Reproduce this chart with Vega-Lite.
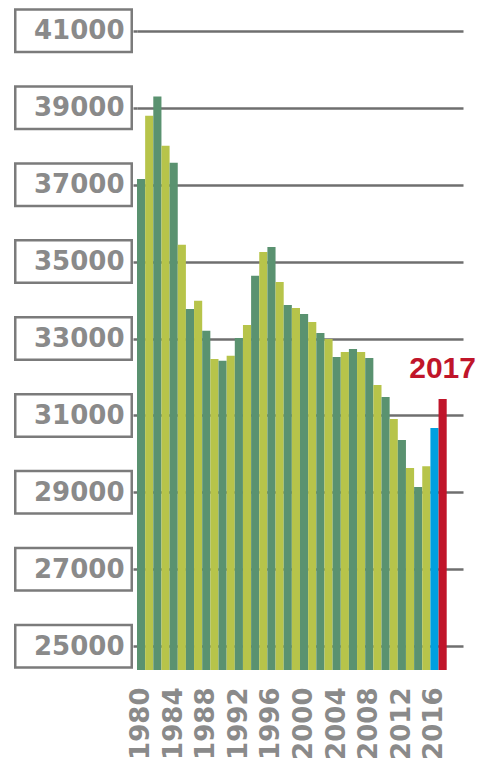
{
  "$schema": "https://vega.github.io/schema/vega-lite/v6.json",
  "width": 326,
  "height": 658,
  "autosize": {"type": "none"},
  "padding": {"left": 137, "top": 12, "right": 20, "bottom": 93},
  "background": "white",
  "config": {"view": {"stroke": null}},
  "datasets": {
    "bars": [
      {"year": 1980, "value": 37150, "kind": "even"},
      {"year": 1981, "value": 38790, "kind": "odd"},
      {"year": 1982, "value": 39290, "kind": "even"},
      {"year": 1983, "value": 38010, "kind": "odd"},
      {"year": 1984, "value": 37570, "kind": "even"},
      {"year": 1985, "value": 35440, "kind": "odd"},
      {"year": 1986, "value": 33770, "kind": "even"},
      {"year": 1987, "value": 33980, "kind": "odd"},
      {"year": 1988, "value": 33200, "kind": "even"},
      {"year": 1989, "value": 32470, "kind": "odd"},
      {"year": 1990, "value": 32420, "kind": "even"},
      {"year": 1991, "value": 32550, "kind": "odd"},
      {"year": 1992, "value": 33010, "kind": "even"},
      {"year": 1993, "value": 33350, "kind": "odd"},
      {"year": 1994, "value": 34630, "kind": "even"},
      {"year": 1995, "value": 35250, "kind": "odd"},
      {"year": 1996, "value": 35380, "kind": "even"},
      {"year": 1997, "value": 34470, "kind": "odd"},
      {"year": 1998, "value": 33870, "kind": "even"},
      {"year": 1999, "value": 33790, "kind": "odd"},
      {"year": 2000, "value": 33640, "kind": "even"},
      {"year": 2001, "value": 33430, "kind": "odd"},
      {"year": 2002, "value": 33140, "kind": "even"},
      {"year": 2003, "value": 32990, "kind": "odd"},
      {"year": 2004, "value": 32520, "kind": "even"},
      {"year": 2005, "value": 32650, "kind": "odd"},
      {"year": 2006, "value": 32730, "kind": "even"},
      {"year": 2007, "value": 32650, "kind": "odd"},
      {"year": 2008, "value": 32490, "kind": "even"},
      {"year": 2009, "value": 31790, "kind": "odd"},
      {"year": 2010, "value": 31480, "kind": "even"},
      {"year": 2011, "value": 30910, "kind": "odd"},
      {"year": 2012, "value": 30360, "kind": "even"},
      {"year": 2013, "value": 29630, "kind": "odd"},
      {"year": 2014, "value": 29140, "kind": "even"},
      {"year": 2015, "value": 29680, "kind": "odd"},
      {"year": 2016, "value": 30670, "kind": "prior"},
      {"year": 2017, "value": 31430, "kind": "current"}
    ],
    "ticks": [
      {"tick": 25000}, {"tick": 27000}, {"tick": 29000}, {"tick": 31000},
      {"tick": 33000}, {"tick": 35000}, {"tick": 37000}, {"tick": 39000}, {"tick": 41000}
    ]
  },
  "layer": [
    {
      "data": {"name": "bars"},
      "mark": {"type": "bar"},
      "encoding": {
        "x": {
          "field": "year",
          "type": "ordinal",
          "scale": {"paddingInner": 0, "paddingOuter": 1.125, "align": 0},
          "axis": {
            "title": null,
            "values": [1980, 1984, 1988, 1992, 1996, 2000, 2004, 2008, 2012, 2016],
            "labelAngle": 270,
            "labelFont": "DejaVu Sans",
            "labelFontWeight": "bold",
            "labelFontSize": 26,
            "labelColor": "#8a8a8a",
            "labelPadding": 17,
            "ticks": false,
            "domain": false
          }
        },
        "y": {
          "field": "value",
          "type": "quantitative",
          "scale": {"domain": [24380, 41490], "nice": false, "zero": false},
          "axis": {
            "title": null,
            "format": "d",
            "values": [25000, 27000, 29000, 31000, 33000, 35000, 37000, 39000, 41000],
            "domain": false,
            "grid": true,
            "gridColor": "#6f6f6f",
            "gridWidth": 2.5,
            "gridOpacity": 1,
            "ticks": true,
            "tickSize": 4,
            "tickWidth": 2.5,
            "tickColor": "#6f6f6f",
            "labelFont": "DejaVu Sans",
            "labelFontWeight": "bold",
            "labelFontSize": 26,
            "labelColor": "#8a8a8a",
            "labelPadding": 9
          }
        },
        "y2": {"datum": 24380},
        "color": {
          "field": "kind",
          "type": "nominal",
          "scale": {
            "domain": ["even", "odd", "prior", "current"],
            "range": ["#5a9270", "#b7c44a", "#00a0e0", "#c0152a"]
          },
          "legend": null
        }
      }
    },
    {
      "data": {"name": "ticks"},
      "mark": {
        "type": "point",
        "shape": "M-2.435,-0.425H-0.105V0.425H-2.435Z",
        "filled": false,
        "size": 10000,
        "strokeWidth": 2.5,
        "color": "#7b7b7b",
        "opacity": 1
      },
      "encoding": {
        "x": {"value": 0},
        "y": {"field": "tick", "type": "quantitative", "title": null}
      }
    },
    {
      "data": {"name": "bars"},
      "transform": [{"filter": "datum.year == 2017"}],
      "mark": {
        "type": "text",
        "font": "Liberation Sans",
        "fontWeight": "bold",
        "fontSize": 30,
        "color": "#c0152a",
        "align": "center",
        "baseline": "alphabetic",
        "dy": -21
      },
      "encoding": {
        "x": {"field": "year", "type": "ordinal"},
        "y": {"field": "value", "type": "quantitative", "title": null},
        "text": {"field": "year", "type": "nominal"}
      }
    }
  ]
}
